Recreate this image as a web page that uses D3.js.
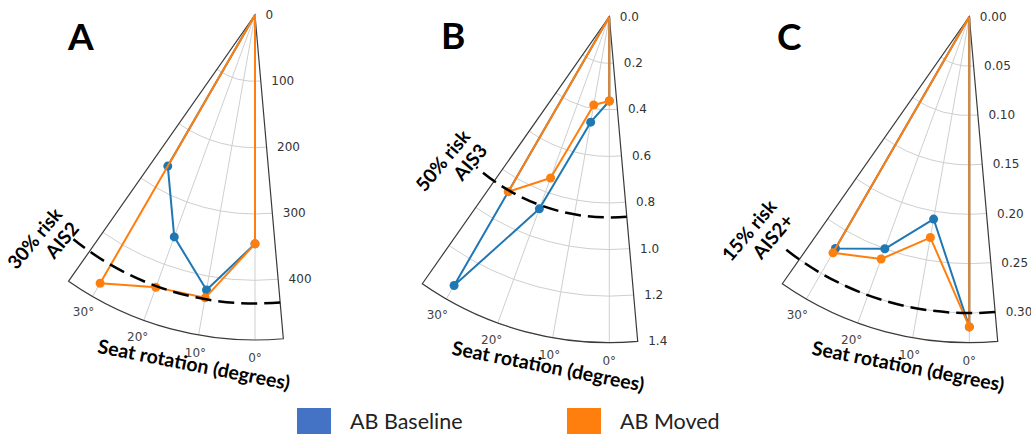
<!DOCTYPE html>
<html>
<head>
<meta charset="utf-8">
<script src="https://cdn.jsdelivr.net/npm/d3@7"></script>
<style>
  html, body { margin: 0; padding: 0; background: #fff; }
  svg { display: block; }
</style>
</head>
<body>
<svg id="chart" width="1031" height="434"></svg>
<script>
// ---------------- data ----------------
const thetas = [30, 20, 10, 0];                 // seat rotation (degrees)
const panelLetters = ["A", "B", "C"];
const seriesNames = ["AB Baseline", "AB Moved"];

const aBaseline = [263, 356, 421, 345];
const aMoved    = [467, 437, 433, 345];
const bBaseline = [1.333, 0.878, 0.46, 0.362];
const bMoved    = [0.868, 0.737, 0.385, 0.362];
const cBaseline = [0.271, 0.250, 0.208, 0.314];
const cMoved    = [0.276, 0.261, 0.227, 0.314];

const aTicks = [0, 100, 200, 300, 400];
const bTicks = [0, 0.2, 0.4, 0.6, 0.8, 1.0, 1.2, 1.4];
const cTicks = [0, 0.05, 0.10, 0.15, 0.20, 0.25, 0.30];
const thetaTicks = [0, 10, 20, 30];

const radialMax = [490, 1.4, 0.33];
const riskValues = [435, 0.862, 0.30];
const riskLabels = [["30% risk", "AIS2"], ["50% risk", "AIS3"], ["15% risk", "AIS2+"]];

// ---------------- layout / style ----------------
const colors = ["#1f77b4", "#ff7f0e"];
const legendColors = ["#4472C4", "#FF7F0E"];
const thetaMin = -5, thetaMax = 35;
const panels = [
  { cx: 255,   cy: 15,   R: 325, base: aBaseline, moved: aMoved, ticks: aTicks, fmt: d3.format("d"),
    letter: [68, 50], risk: [43.8, 277], dashEnd: 39 },
  { cx: 609.3, cy: 16.7, R: 326, base: bBaseline, moved: bMoved, ticks: bTicks, fmt: d3.format(".1f"),
    letter: [441, 48.5], risk: [48.9, 183], dashEnd: 41.5 },
  { cx: 969.3, cy: 16.7, R: 326, base: cBaseline, moved: cMoved, ticks: cTicks, fmt: d3.format(".2f"),
    letter: [777, 50], risk: [45.2, 270], dashEnd: 39 }
];

const svg = d3.select("#chart");
const deg = d3.scaleLinear().domain([0, 180]).range([0, Math.PI]);
// canvas angle (from +x, clockwise) for our theta (0 = down, increasing toward left)
const phi = t => Math.PI / 2 + deg(t);
const lineAngle = t => Math.PI + deg(t);   // d3.lineRadial convention

panels.forEach((p, i) => {
  const r = d3.scaleLinear().domain([0, radialMax[i]]).range([0, p.R]);
  const g = svg.append("g").attr("transform", `translate(${p.cx},${p.cy})`);
  const pt = (t, rp) => [-rp * Math.sin(deg(t)), rp * Math.cos(deg(t))];

  // radial gridlines (arcs)
  p.ticks.filter(v => v > 0).forEach(v => {
    const path = d3.path();
    path.arc(0, 0, r(v), phi(thetaMin), phi(thetaMax), false);
    g.append("path").attr("d", path.toString())
      .attr("fill", "none").attr("stroke", "#cfcfcf").attr("stroke-width", 1);
  });
  // angular gridlines (rays)
  thetaTicks.forEach(t => {
    const e = pt(t, p.R);
    g.append("line").attr("x1", 0).attr("y1", 0).attr("x2", e[0]).attr("y2", e[1])
      .attr("stroke", "#cfcfcf").attr("stroke-width", 1);
  });

  // wedge outline
  const w = d3.path();
  w.moveTo(0, 0);
  const s = pt(thetaMin, p.R);
  w.lineTo(s[0], s[1]);
  w.arc(0, 0, p.R, phi(thetaMin), phi(thetaMax), false);
  w.closePath();
  g.append("path").attr("d", w.toString())
    .attr("fill", "none").attr("stroke", "#3a3a3a").attr("stroke-width", 1.2);

  // radial tick labels
  p.ticks.forEach(v => {
    const e = pt(thetaMin, r(v));
    g.append("text").attr("x", e[0] + 10.5).attr("y", e[1])
      .attr("dominant-baseline", "central")
      .attr("font-family", "DejaVu Sans").attr("font-size", 12).attr("fill", "#333")
      .text(p.fmt(v));
  });
  // angular tick labels
  thetaTicks.forEach(t => {
    const e = pt(t, p.R + 18);
    g.append("text").attr("x", e[0]).attr("y", e[1])
      .attr("text-anchor", "middle").attr("dominant-baseline", "central")
      .attr("font-family", "DejaVu Sans").attr("font-size", 12).attr("fill", "#444")
      .text(t + "°");
  });

  // series
  const line = d3.lineRadial().angle(d => lineAngle(d.t)).radius(d => r(d.r));
  [p.base, p.moved].forEach((vals, si) => {
    const pts = thetas.map((t, k) => ({ t, r: vals[k] }));
    const full = [{ t: thetas[0], r: 0 }, ...pts, { t: thetas[thetas.length - 1], r: 0 }];
    g.append("path").attr("d", line(full))
      .attr("fill", "none").attr("stroke", colors[si]).attr("stroke-width", 2)
      .attr("stroke-linejoin", "round");
    g.selectAll(null).data(pts).enter().append("circle")
      .attr("cx", d => pt(d.t, r(d.r))[0]).attr("cy", d => pt(d.t, r(d.r))[1])
      .attr("r", 4.5).attr("fill", colors[si]);
  });

  // risk threshold dashed arc
  const dp = d3.path();
  dp.arc(0, 0, r(riskValues[i]), phi(thetaMin), phi(p.dashEnd), false);
  g.append("path").attr("d", dp.toString())
    .attr("fill", "none").attr("stroke", "#000").attr("stroke-width", 2.5)
    .attr("stroke-dasharray", "16,7");

  // risk label (right aligned, rotated)
  const rp = pt(p.risk[0], p.risk[1]);
  const rt = g.append("text").attr("transform", `translate(${rp[0]},${rp[1]}) rotate(-50)`)
    .attr("text-anchor", "end").attr("font-family", "Lato").attr("font-weight", "bold")
    .attr("font-size", 19).attr("fill", "#000");
  riskLabels[i].forEach((s2, k) => {
    rt.append("tspan").attr("x", 0).attr("y", k * 22).text(s2);
  });

  // axis title
  g.append("text").attr("transform", `translate(-61,349) rotate(11)`)
    .attr("text-anchor", "middle").attr("dominant-baseline", "central")
    .attr("font-family", "Lato").attr("font-weight", "bold").attr("font-size", 19.5)
    .attr("fill", "#000").text("Seat rotation (degrees)");

  // panel letter
  svg.append("text").attr("x", p.letter[0]).attr("y", p.letter[1])
    .attr("font-family", "Lato").attr("font-weight", "bold").attr("font-size", 37)
    .attr("fill", "#000").text(panelLetters[i]);
});

// legend
const legendX = [297, 567];
seriesNames.forEach((name, i) => {
  svg.append("rect").attr("x", legendX[i]).attr("y", 408).attr("width", 34).attr("height", 26)
    .attr("fill", legendColors[i]);
  svg.append("text").attr("x", legendX[i] + 53).attr("y", 429)
    .attr("font-family", "Lato").attr("font-size", 21.5).attr("fill", "#222").text(name);
});
</script>
</body>
</html>
